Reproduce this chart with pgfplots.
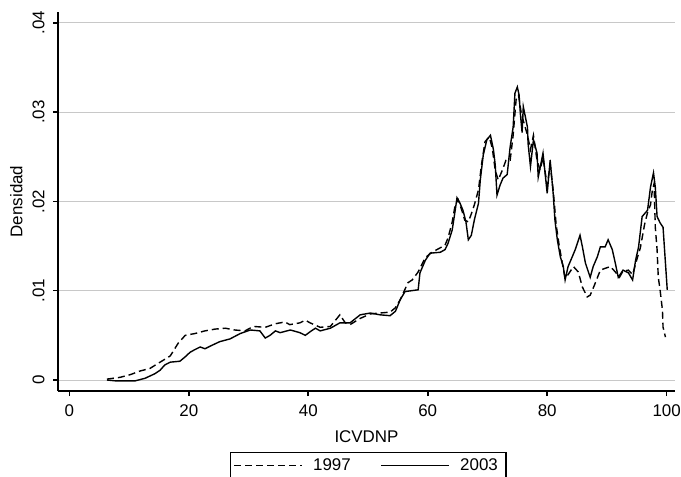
\documentclass[border=0pt]{standalone}
\usepackage{fontspec}
\setmainfont{Liberation Sans}
\usepackage{pgfplots}
\pgfplotsset{compat=1.18}
\usepackage{pgfplotstable}

\pgfplotstableread{
x y
6.3 0.0001
8.5 0.0003
10.2 0.0006
11.8 0.0010
13.5 0.0013
15.2 0.0020
16.9 0.0027
18.2 0.0041
19.4 0.0050
21.0 0.0052
22.7 0.0055
24.4 0.0057
26.1 0.0058
27.7 0.0056
29.4 0.0055
30.8 0.0060
32.8 0.0059
34.5 0.0063
36.1 0.0065
36.9 0.0062
38.6 0.0064
39.5 0.0067
40.3 0.0064
42.0 0.0059
43.7 0.0060
45.3 0.0073
46.2 0.0064
47.0 0.0062
48.7 0.0069
50.4 0.0074
52.0 0.0075
53.7 0.0076
54.6 0.0081
55.4 0.0090
56.7 0.0109
57.4 0.0112
58.4 0.0121
59.6 0.0137
60.7 0.0143
62.1 0.0148
62.9 0.0151
63.4 0.0159
64.1 0.0177
64.6 0.0196
65.1 0.0202
65.8 0.0188
66.2 0.0179
66.8 0.0177
67.3 0.0186
67.8 0.0196
68.5 0.0213
69.0 0.0241
69.6 0.0267
70.3 0.0272
70.8 0.0260
71.3 0.0235
71.8 0.0224
72.5 0.0235
73.1 0.0246
73.8 0.0246
74.3 0.0274
74.8 0.0314
75.2 0.0319
75.7 0.0297
76.2 0.0286
76.7 0.0274
77.2 0.0258
77.7 0.0274
78.3 0.0246
78.8 0.0235
79.3 0.0249
80.0 0.0218
80.5 0.0241
81.0 0.0213
81.5 0.0174
82.0 0.0151
82.5 0.0132
83.0 0.0114
83.5 0.0118
84.4 0.0127
85.2 0.0121
85.9 0.0104
86.7 0.0093
87.2 0.0095
87.9 0.0106
88.9 0.0123
89.7 0.0125
90.6 0.0127
91.4 0.0121
92.1 0.0115
92.7 0.0122
93.6 0.0123
94.3 0.0118
95.1 0.0137
95.6 0.0148
96.3 0.0174
96.9 0.0190
97.3 0.0196
97.6 0.0212
97.9 0.0220
98.1 0.0171
98.4 0.0146
98.6 0.0115
98.9 0.0101
99.3 0.0078
99.4 0.0059
99.8 0.0048
}\dataA

\pgfplotstableread{
x y
6.3 0.0000
7.8 -0.0001
11.0 -0.0001
12.7 0.0002
14.3 0.0007
15.2 0.0011
16.0 0.0017
16.9 0.0020
18.5 0.0021
19.4 0.0026
20.2 0.0031
21.0 0.0034
21.9 0.0037
22.7 0.0035
23.6 0.0038
25.2 0.0043
26.9 0.0046
28.6 0.0052
30.3 0.0056
31.9 0.0055
32.8 0.0047
33.6 0.0050
34.5 0.0055
35.3 0.0053
37.0 0.0056
38.6 0.0053
39.5 0.0050
40.3 0.0054
41.2 0.0058
42.0 0.0055
43.7 0.0058
45.3 0.0064
47.0 0.0064
48.7 0.0073
50.4 0.0075
52.0 0.0073
53.7 0.0072
54.6 0.0077
55.4 0.0090
56.2 0.0099
58.4 0.0101
58.7 0.0120
59.6 0.0134
60.4 0.0142
62.1 0.0143
62.9 0.0146
63.4 0.0153
64.1 0.0168
64.6 0.0190
64.9 0.0204
65.4 0.0198
65.9 0.0190
66.4 0.0177
66.8 0.0157
67.3 0.0162
67.8 0.0179
68.5 0.0198
68.8 0.0224
69.3 0.0252
69.9 0.0269
70.5 0.0274
71.0 0.0258
71.3 0.0241
71.6 0.0207
72.1 0.0218
72.6 0.0226
73.3 0.0230
73.8 0.0261
74.3 0.0283
74.6 0.0321
75.0 0.0328
75.3 0.0319
75.5 0.0299
75.8 0.0277
76.0 0.0306
76.7 0.0283
76.8 0.0265
77.2 0.0239
77.7 0.0269
78.3 0.0254
78.5 0.0227
79.3 0.0254
80.0 0.0209
80.5 0.0246
81.0 0.0209
81.3 0.0179
81.7 0.0157
82.2 0.0138
82.7 0.0127
83.0 0.0112
83.5 0.0127
84.2 0.0138
84.7 0.0146
85.5 0.0162
85.9 0.0149
86.4 0.0131
87.2 0.0115
87.7 0.0127
88.4 0.0138
88.9 0.0149
89.7 0.0149
90.2 0.0157
90.9 0.0146
91.4 0.0131
91.9 0.0115
92.7 0.0123
93.6 0.0120
94.3 0.0112
94.8 0.0134
95.3 0.0149
95.9 0.0183
96.8 0.0190
97.3 0.0216
97.8 0.0232
98.1 0.0216
98.4 0.0183
98.9 0.0176
99.4 0.0171
99.8 0.0131
100.1 0.0101
}\dataB

\begin{document}
\begin{tikzpicture}
\useasboundingbox (-58bp,-86bp) rectangle (623bp,391bp);
\begin{axis}[
  scale only axis,
  width=617bp, height=379bp,
  xmin=-1.9, xmax=101.4,
  ymin=-0.00123, ymax=0.0412,
  scaled y ticks=false, scaled x ticks=false,
  axis x line*=bottom, axis y line*=left,
  axis line style={line width=1.6bp, black},
  xtick={0,20,40,60,80,100},
  xticklabels={0,20,40,60,80,100},
  ytick={0,0.01,0.02,0.03,0.04},
  yticklabels={0,.01,.02,.03,.04},
  tick align=outside,
  major tick length=5bp,
  tick style={line width=1.6bp, black},
  ymajorgrids,
  grid style={line width=0.9bp, color={rgb,255:red,200;green,200;blue,200}},
  every tick label/.append style={font=\fontsize{17}{20}\selectfont},
  yticklabel style={rotate=90, anchor=south, yshift=5bp},
  xticklabel style={yshift=-5bp},
  xlabel={ICVDNP},
  ylabel={Densidad},
  label style={font=\fontsize{17}{20}\selectfont},
  xlabel style={at={(axis description cs:0.5,0)}, anchor=north, yshift=-36bp},
  ylabel style={at={(axis description cs:0,0.5)}, anchor=south, yshift=32bp},
  legend columns=2,
  legend style={at={(axis description cs:0.2788,-0.161)}, anchor=north west,
    draw=black, line width=1.4bp, font=\fontsize{17}{20}\selectfont,
    inner xsep=3bp, inner ysep=4bp,
    nodes={inner xsep=5bp},
    /tikz/every odd column/.append style={column sep=5bp},
    /tikz/every even column/.append style={column sep=25bp}},
  legend image code/.code={\draw[#1] (0bp,0bp) -- (68bp,0bp);},
]
\addplot[black, line width=1.4bp, dash pattern=on 7bp off 4bp] table[x=x,y=y] {\dataA};
\addlegendentry{1997}
\addplot[black, line width=1.4bp] table[x=x,y=y] {\dataB};
\addlegendentry{2003}
\end{axis}
\end{tikzpicture}
\end{document}
